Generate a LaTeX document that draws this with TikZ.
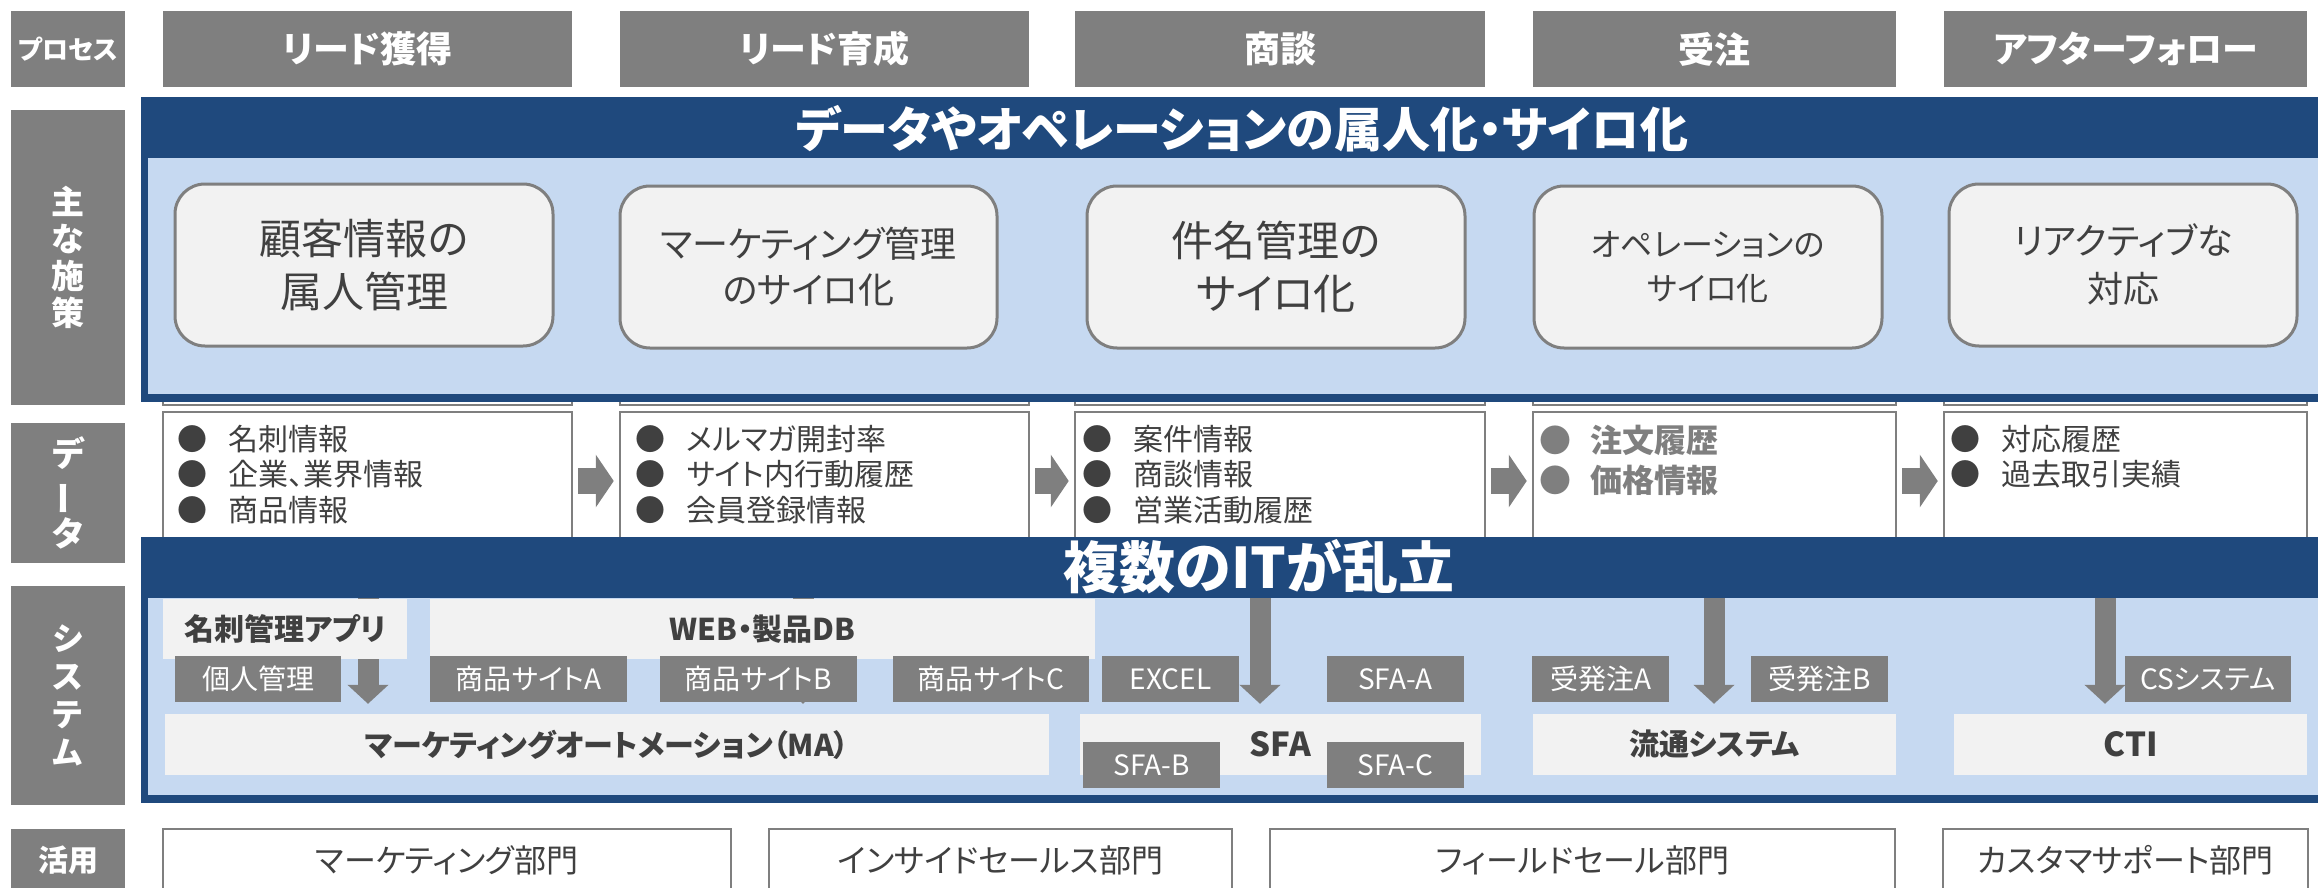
\documentclass[tikz,border=0pt]{standalone}
\usepackage{fontspec}
\setmainfont{Noto Sans CJK JP}[RawFeature=+palt]
\usepackage{tikz}
\usetikzlibrary{arrows.meta}
\definecolor{bandblue}{RGB}{31,73,125}
\definecolor{paleblue}{RGB}{198,217,241}
\definecolor{hdrgray}{RGB}{127,127,127}
\definecolor{boxgray}{RGB}{242,242,242}
\definecolor{inkgray}{RGB}{64,64,64}

\tikzset{
  procbox/.style={fill=hdrgray, text=white, inner sep=0pt, minimum height=76pt,
    font=\bfseries\fontsize{36}{40}\selectfont},
  sidebox/.style={fill=hdrgray, text=white, inner sep=0pt, minimum width=114pt, align=center},
  bandtitle/.style={text=white, inner sep=0pt, font=\bfseries\fontsize{48}{52}\selectfont},
  issuebox/.style={draw=hdrgray, line width=3pt, fill=boxgray, rounded corners=30pt,
    minimum height=162pt, text=inkgray, align=center, inner sep=0pt},
  databox/.style={draw=hdrgray, line width=2.5pt, fill=white, minimum height=138pt, inner sep=0pt},
  bullets/.style={anchor=north west, align=left, inner sep=0pt, text=inkgray,
    font=\fontsize{30}{35.5}\selectfont},
  sysbox/.style={fill=boxgray, text=inkgray, inner sep=0pt, font=\bfseries\fontsize{30}{34}\selectfont},
  tagbox/.style={fill=hdrgray, text=white, inner sep=0pt, minimum height=46pt,
    font=\fontsize{28}{32}\selectfont},
  deptbox/.style={draw=hdrgray, line width=2.5pt, fill=white, text=inkgray, inner sep=0pt,
    minimum height=62pt, font=\fontsize{32}{36}\selectfont},
  datarrow/.style={draw=hdrgray, line width=26pt, -{Triangle[width=52pt,length=18pt]},
    shorten <=5pt, shorten >=5pt},
  droparrow/.style={draw=hdrgray, line width=21pt, -{Triangle[width=40pt,length=19pt]},
    shorten >=10pt}
}
\newcommand{\bul}{\makebox[51pt][l]{●}}

\begin{document}
\begin{tikzpicture}[x=1pt, y=-1pt]
\useasboundingbox (0,0) rectangle (2318,888);

% process row
\node[sidebox, minimum height=76pt, font=\bfseries\fontsize{26}{30}\selectfont] (lblproc) at (68,49) {プロセス};
\node[procbox, minimum width=409pt] (proc1) at (367.5,49) {リード獲得};
\node[procbox, minimum width=409pt] (proc2) at (824.5,49) {リード育成};
\node[procbox, minimum width=410pt] (proc3) at (1280,49) {商談};
\node[procbox, minimum width=363pt] (proc4) at (1714.5,49) {受注};
\node[procbox, minimum width=363pt] (proc5) at (2125.5,49) {アフターフォロー};

% column strips behind the first band
\draw[draw=hdrgray, line width=2.5pt, fill=white] (163,300) rectangle (572,405);
\draw[draw=hdrgray, line width=2.5pt, fill=white] (620,300) rectangle (1029,405);
\draw[draw=hdrgray, line width=2.5pt, fill=white] (1075,300) rectangle (1485,405);
\draw[draw=hdrgray, line width=2.5pt, fill=white] (1533,300) rectangle (1896,405);
\draw[draw=hdrgray, line width=2.5pt, fill=white] (1944,300) rectangle (2307,405);

% main measures
\node[sidebox, minimum height=295pt, font=\bfseries\fontsize{33}{37}\selectfont] (lblmain) at (68,257.5) {主\\な\\施\\策};
\fill[bandblue] (141,97) rectangle (2330,402);
\fill[paleblue] (148,158) rectangle (2330,394);
\node[bandtitle] (title1) at (1242,129) {データやオペレーションの属人化・サイロ化};

\node[issuebox, minimum width=378pt, font=\fontsize{42}{53}\selectfont] (iss1) at (364,265) {顧客情報の\\属人管理};
\node[issuebox, minimum width=377pt, font=\fontsize{36}{46}\selectfont] (iss2) at (808.5,267) {マーケティング管理\\のサイロ化};
\node[issuebox, minimum width=378pt, font=\fontsize{42}{53}\selectfont] (iss3) at (1276,267) {件名管理の\\サイロ化};
\node[issuebox, minimum width=348pt, font=\fontsize{32}{44}\selectfont] (iss4) at (1708,267) {オペレーションの\\サイロ化};
\node[issuebox, minimum width=348pt, font=\fontsize{36}{48}\selectfont] (iss5) at (2123,265) {リアクティブな\\対応};

% data
\node[sidebox, minimum height=140pt, font=\bfseries\fontsize{34}{40}\selectfont] (lbldata) at (68,493) {デ\\\rotatebox[origin=c]{90}{ー}\\タ};
\node[databox, minimum width=409pt] (data1) at (367.5,481) {};
\node[databox, minimum width=409pt] (data2) at (824.5,481) {};
\node[databox, minimum width=410pt] (data3) at (1280,481) {};
\node[databox, minimum width=363pt] (data4) at (1714.5,481) {};
\node[databox, minimum width=363pt] (data5) at (2125.5,481) {};

\node[bullets] (list1) at (177.5,425) {\bul 名刺情報\\\bul 企業、業界情報\\\bul 商品情報};
\node[bullets] (list2) at (635.5,425) {\bul メルマガ開封率\\\bul サイト内行動履歴\\\bul 会員登録情報};
\node[bullets] (list3) at (1082.5,425) {\bul 案件情報\\\bul 商談情報\\\bul 営業活動履歴};
\node[bullets, text=hdrgray, font=\bfseries\fontsize{32}{40}\selectfont] (list4) at (1539,425) {\bul 注文履歴\\\bul 価格情報};
\node[bullets] (list5) at (1950.5,425) {\bul 対応履歴\\\bul 過去取引実績};

\draw[datarrow] (data1) -- (data2);
\draw[datarrow] (data2) -- (data3);
\draw[datarrow] (data3) -- (data4);
\draw[datarrow] (data4) -- (data5);

% systems
\node[sidebox, minimum height=219pt, font=\bfseries\fontsize{32}{38}\selectfont] (lblsys) at (68,695.5) {シ\\ス\\テ\\ム};
\fill[bandblue] (141,537) rectangle (2330,803);
\fill[paleblue] (148,598) rectangle (2330,795);
\node[bandtitle, font=\bfseries\fontsize{56}{60}\selectfont] (title2) at (1259,567) {複数のITが乱立};

\node[sysbox, minimum width=884pt, minimum height=61pt] (ma) at (607,744.5) {マーケティングオートメーション（MA）};
\node[sysbox, minimum width=401pt, minimum height=61pt, font=\bfseries\fontsize{33}{36}\selectfont] (sfa) at (1280.5,744.5) {SFA};
\node[sysbox, minimum width=363pt, minimum height=61pt] (ryutsu) at (1714.5,744.5) {流通システム};
\node[sysbox, minimum width=353pt, minimum height=61pt, font=\bfseries\fontsize{33}{36}\selectfont] (cti) at (2130.5,744.5) {CTI};

\coordinate (drop1) at (368,598);
\coordinate (drop2) at (803,598);
\coordinate (drop3) at (1260,598);
\coordinate (drop4) at (1714,598);
\coordinate (drop5) at (2105,598);
\draw[droparrow] (drop1) -- (drop1 |- ma.north);
\draw[droparrow] (drop2) -- (drop2 |- ma.north);
\draw[droparrow] (drop3) -- (drop3 |- sfa.north);
\draw[droparrow] (drop4) -- (drop4 |- ryutsu.north);
\draw[droparrow] (drop5) -- (drop5 |- cti.north);

\node[sysbox, minimum width=244pt, minimum height=60pt] (app) at (285,629) {名刺管理アプリ};
\node[sysbox, minimum width=665pt, minimum height=60pt] (web) at (762.5,629) {WEB・製品DB};

\node[tagbox, minimum width=166pt] (tagkojin) at (258,679) {個人管理};
\node[tagbox, minimum width=197pt] (tagsiteA) at (528.5,679) {商品サイトA};
\node[tagbox, minimum width=197pt] (tagsiteB) at (758.5,679) {商品サイトB};
\node[tagbox, minimum width=196pt] (tagsiteC) at (991,679) {商品サイトC};
\node[tagbox, minimum width=137pt] (tagexcel) at (1170.5,679) {EXCEL};
\node[tagbox, minimum width=137pt] (tagsfaA) at (1395.5,679) {SFA-A};
\node[tagbox, minimum width=137pt] (tagjuA) at (1600.5,679) {受発注A};
\node[tagbox, minimum width=137pt] (tagjuB) at (1819.5,679) {受発注B};
\node[tagbox, minimum width=166pt] (tagcs) at (2208,679) {CSシステム};
\node[tagbox, minimum width=137pt] (tagsfaB) at (1151.5,765) {SFA-B};
\node[tagbox, minimum width=137pt] (tagsfaC) at (1395.5,765) {SFA-C};

% usage
\node[sidebox, minimum height=62pt, font=\bfseries\fontsize{30}{34}\selectfont] (lbluse) at (68,860) {活用};
\node[deptbox, minimum width=568pt] (deptmkt) at (447,860) {マーケティング部門};
\node[deptbox, minimum width=463pt] (deptis) at (1000.5,860) {インサイドセールス部門};
\node[deptbox, minimum width=625pt] (deptfs) at (1582.5,860) {フィールドセール部門};
\node[deptbox, minimum width=365pt] (deptcs) at (2125.5,860) {カスタマサポート部門};
\end{tikzpicture}
\end{document}
